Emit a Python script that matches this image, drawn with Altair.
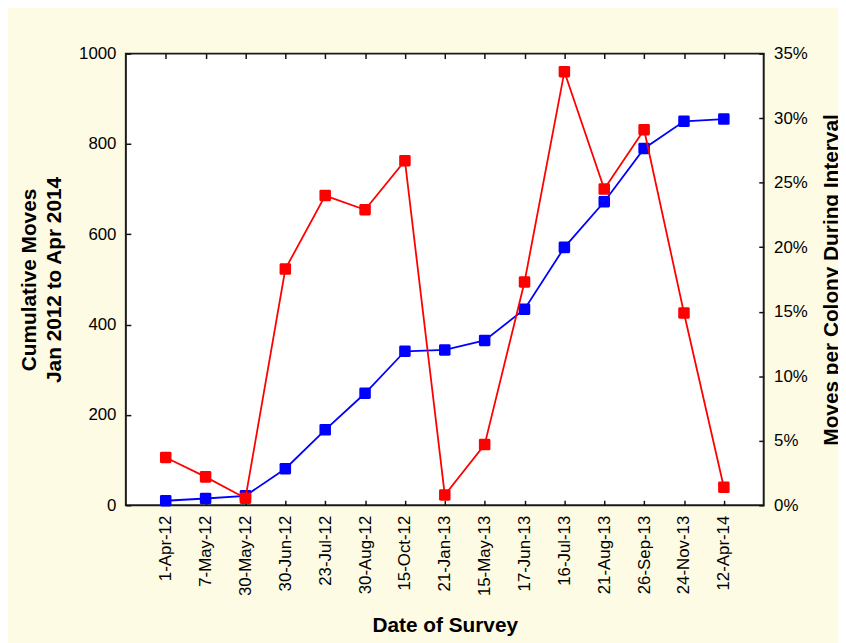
import altair as alt
import pandas as pd

dates = ["1-Apr-12", "7-May-12", "30-May-12", "30-Jun-12", "23-Jul-12", "30-Aug-12",
         "15-Oct-12", "21-Jan-13", "15-May-13", "17-Jun-13", "16-Jul-13", "21-Aug-13",
         "26-Sep-13", "24-Nov-13", "12-Apr-14"]
cumulative_moves = [10, 15, 21, 81, 167, 248, 341, 344, 365, 434, 571, 672, 790, 850, 855]
moves_pct = [3.7, 2.2, 0.55, 18.3, 24.0, 22.9, 26.7, 0.8, 4.7, 17.3, 33.6, 24.5, 29.1, 14.9, 1.4]
left_ticks = [0, 200, 400, 600, 800, 1000]
right_ticks = [0, 5, 10, 15, 20, 25, 30, 35]

df = pd.DataFrame({"date": dates, "cum": cumulative_moves, "pct": moves_pct})

FONT = "Liberation Sans"
rounded_square = ("M -0.75 -1 L 0.75 -1 Q 1 -1 1 -0.75 L 1 0.75 Q 1 1 0.75 1 "
                  "L -0.75 1 Q -1 1 -1 0.75 L -1 -0.75 Q -1 -1 -0.75 -1 Z")

xscale = alt.Scale(type="point", padding=1)
common_axis = dict(offset=-5, domain=False, tickSize=5, tickWidth=1.5, tickColor="#111",
                   grid=False, labelFont=FONT, labelFontSize=17, labelColor="#000",
                   titleFont=FONT, titleFontSize=21, titleFontWeight="bold", titleColor="#000")

x_bottom = alt.X("date:N", sort=dates, scale=xscale,
                 axis=alt.Axis(orient="bottom", title="Date of Survey", labelAngle=270,
                               labelPadding=10, titlePadding=19, **common_axis))
x_top = alt.X("date:N", sort=dates, scale=xscale,
              axis=alt.Axis(orient="top", title=None, labels=False, **common_axis))

y_left = alt.Y("cum:Q", scale=alt.Scale(domain=[0, 1000]),
               axis=alt.Axis(orient="left", values=left_ticks, format="d",
                             title=["Cumulative Moves", "Jan 2012 to Apr 2014"],
                             titleLineHeight=25, labelPadding=10, titlePadding=14,
                             **common_axis))
y_right = alt.Y("pct:Q", scale=alt.Scale(domain=[0, 35]),
                axis=alt.Axis(orient="right", values=right_ticks,
                              labelExpr="datum.value + '%'",
                              title="Moves per Colony During Interval",
                              titleAngle=270, titleBaseline="top",
                              labelPadding=10, titlePadding=13, **common_axis))

base = alt.Chart(df)
blue = alt.layer(
    base.mark_line(color="#0000ff", strokeWidth=1.8).encode(x=x_bottom, y=y_left),
    base.mark_point(shape=rounded_square, filled=True, color="#0000ff", size=135, opacity=1)
        .encode(x=x_bottom, y=y_left),
)
red = alt.layer(
    base.mark_line(color="#ff0000", strokeWidth=1.8).encode(x=x_top, y=y_right),
    base.mark_point(shape=rounded_square, filled=True, color="#ff0000", size=135, opacity=1)
        .encode(x=x_top, y=y_right),
)

chart = (
    alt.layer(blue, red)
    .resolve_scale(y="independent")
    .resolve_axis(x="independent", y="independent")
    .properties(
        width=644, height=456,
        background="#fdfbe3",
        autosize=alt.AutoSizeParams(type="none"),
        padding={"left": 119, "top": 43, "right": 75, "bottom": 136},
    )
    .configure_view(fill="white", stroke="#1a1a1a", strokeWidth=2)
)

chart.save("out.html", embed_options={"renderer": "svg", "actions": False})
